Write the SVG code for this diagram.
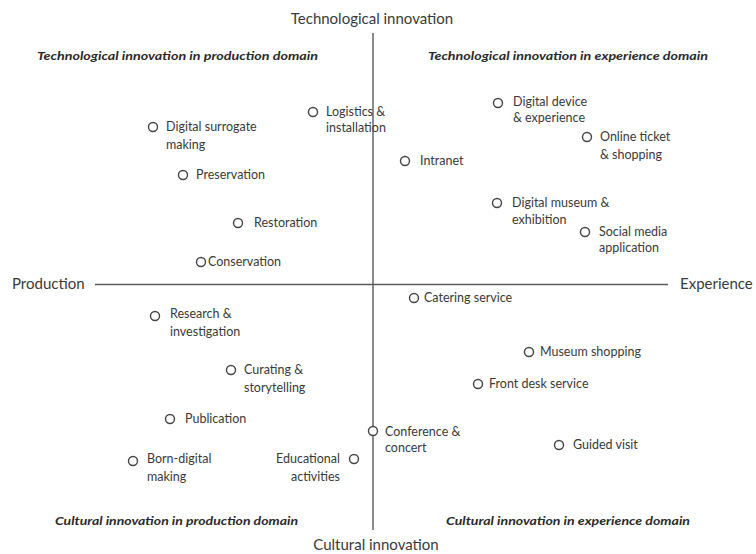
<svg xmlns="http://www.w3.org/2000/svg" width="756" height="554" viewBox="0 0 756 554">
  <style>
    text { font-family: Lato, "Open Sans", "Liberation Sans", sans-serif; fill: #3a3a3a; }
    .axis-label { font-size: 15px; }
    .quad { font-size: 11px; font-weight: bold; font-style: italic; fill: #2a2a2a; }
    .lbl { font-size: 12.5px; }
    .dot { fill: #ffffff; stroke: #444444; stroke-width: 1.4; }
    .axis { stroke: #5a5a5a; stroke-width: 1.4; fill: none; }
  </style>
  <rect width="756" height="554" fill="#ffffff"/>

  <!-- axes -->
  <g id="axes">
    <line class="axis" x1="373" y1="33" x2="373" y2="530"/>
    <line class="axis" x1="95" y1="284.5" x2="668" y2="284.5"/>
  </g>

  <!-- axis labels -->
  <g id="axis-labels">
    <text class="axis-label" x="372" y="24" text-anchor="middle">Technological innovation</text>
    <text class="axis-label" x="376" y="550" text-anchor="middle">Cultural innovation</text>
    <text class="axis-label" x="12" y="289">Production</text>
    <text class="axis-label" x="680" y="289">Experience</text>
  </g>

  <!-- quadrant titles -->
  <g id="quadrant-titles">
    <text class="quad" x="37" y="60" textLength="281" lengthAdjust="spacingAndGlyphs">Technological innovation in production domain</text>
    <text class="quad" x="428" y="60" textLength="280" lengthAdjust="spacingAndGlyphs">Technological innovation in experience domain</text>
    <text class="quad" x="55" y="525" textLength="243" lengthAdjust="spacingAndGlyphs">Cultural innovation in production domain</text>
    <text class="quad" x="446" y="525" textLength="244" lengthAdjust="spacingAndGlyphs">Cultural innovation in experience domain</text>
  </g>

  <!-- production / technological -->
  <g id="digital-surrogate">
    <circle class="dot" cx="153" cy="127" r="4.5"/>
    <text class="lbl" x="166" y="131">Digital surrogate</text>
    <text class="lbl" x="166" y="149">making</text>
  </g>
  <g id="logistics">
    <circle class="dot" cx="313" cy="112" r="4.5"/>
    <text class="lbl" x="326" y="116">Logistics &amp;</text>
    <text class="lbl" x="326" y="132">installation</text>
  </g>
  <g id="preservation">
    <circle class="dot" cx="183" cy="175" r="4.5"/>
    <text class="lbl" x="196" y="179">Preservation</text>
  </g>
  <g id="restoration">
    <circle class="dot" cx="238" cy="223" r="4.5"/>
    <text class="lbl" x="254" y="227">Restoration</text>
  </g>
  <g id="conservation">
    <circle class="dot" cx="201" cy="262" r="4.5"/>
    <text class="lbl" x="208" y="266">Conservation</text>
  </g>

  <!-- experience / technological -->
  <g id="digital-device">
    <circle class="dot" cx="498" cy="103" r="4.5"/>
    <text class="lbl" x="513" y="106">Digital device</text>
    <text class="lbl" x="513" y="122">&amp; experience</text>
  </g>
  <g id="online-ticket">
    <circle class="dot" cx="587" cy="137" r="4.5"/>
    <text class="lbl" x="600" y="141">Online ticket</text>
    <text class="lbl" x="600" y="159">&amp; shopping</text>
  </g>
  <g id="intranet">
    <circle class="dot" cx="405" cy="161" r="4.5"/>
    <text class="lbl" x="420" y="165">Intranet</text>
  </g>
  <g id="digital-museum">
    <circle class="dot" cx="497" cy="203" r="4.5"/>
    <text class="lbl" x="512" y="207">Digital museum &amp;</text>
    <text class="lbl" x="512" y="224">exhibition</text>
  </g>
  <g id="social-media">
    <circle class="dot" cx="585" cy="232" r="4.5"/>
    <text class="lbl" x="599" y="236">Social media</text>
    <text class="lbl" x="599" y="252">application</text>
  </g>

  <!-- production / cultural -->
  <g id="research">
    <circle class="dot" cx="155" cy="316" r="4.5"/>
    <text class="lbl" x="170" y="318">Research &amp;</text>
    <text class="lbl" x="170" y="336">investigation</text>
  </g>
  <g id="curating">
    <circle class="dot" cx="231" cy="370" r="4.5"/>
    <text class="lbl" x="244" y="374">Curating &amp;</text>
    <text class="lbl" x="244" y="392">storytelling</text>
  </g>
  <g id="publication">
    <circle class="dot" cx="170" cy="419" r="4.5"/>
    <text class="lbl" x="185" y="423">Publication</text>
  </g>
  <g id="born-digital">
    <circle class="dot" cx="133" cy="461" r="4.5"/>
    <text class="lbl" x="147" y="463">Born-digital</text>
    <text class="lbl" x="147" y="481">making</text>
  </g>
  <g id="educational">
    <circle class="dot" cx="354" cy="459" r="4.5"/>
    <text class="lbl" x="340" y="463" text-anchor="end">Educational</text>
    <text class="lbl" x="340" y="481" text-anchor="end">activities</text>
  </g>

  <!-- experience / cultural -->
  <g id="catering">
    <circle class="dot" cx="414" cy="298" r="4.5"/>
    <text class="lbl" x="424" y="302">Catering service</text>
  </g>
  <g id="museum-shopping">
    <circle class="dot" cx="529" cy="352" r="4.5"/>
    <text class="lbl" x="540" y="356">Museum shopping</text>
  </g>
  <g id="front-desk">
    <circle class="dot" cx="478" cy="384" r="4.5"/>
    <text class="lbl" x="489" y="388">Front desk service</text>
  </g>
  <g id="conference">
    <circle class="dot" cx="373" cy="431" r="4.5"/>
    <text class="lbl" x="385" y="436">Conference &amp;</text>
    <text class="lbl" x="385" y="452">concert</text>
  </g>
  <g id="guided-visit">
    <circle class="dot" cx="559" cy="445" r="4.5"/>
    <text class="lbl" x="573" y="449">Guided visit</text>
  </g>
</svg>
